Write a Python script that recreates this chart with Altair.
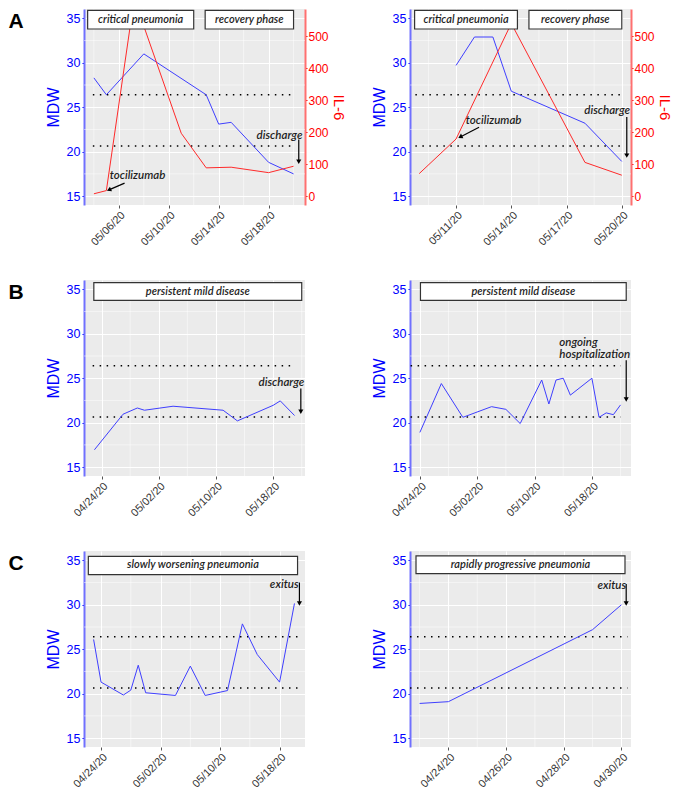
import altair as alt
import pandas as pd

# ---------------- data ----------------
LETTERS = ["A", "B", "C"]
REF_LEVELS = [20.65, 26.4]
MDW_TICKS = [15, 20, 25, 30, 35]
MDW_MINOR = [17.5, 22.5, 27.5, 32.5]
IL6_TICKS = [0, 100, 200, 300, 400, 500]

# A1
A1_mdw_dates = ["2020-05-04", "2020-05-05", "2020-05-08", "2020-05-13", "2020-05-14", "2020-05-15", "2020-05-18", "2020-05-20"]
A1_mdw = [28.3, 26.4, 31.0, 26.4, 23.1, 23.3, 18.8, 17.5]
A1_il6_dates = ["2020-05-04", "2020-05-05", "2020-05-07T02:00", "2020-05-07T14:00", "2020-05-11", "2020-05-13", "2020-05-15", "2020-05-18", "2020-05-20"]
A1_il6 = [8, 18, 578, 578, 197, 89, 91, 74, 94]
A1_ticks = ["2020-05-06", "2020-05-10", "2020-05-14", "2020-05-18"]
A1_minor = ["2020-05-04", "2020-05-08", "2020-05-12", "2020-05-16", "2020-05-20"]
A1_xdom = ["2020-05-03T05:00", "2020-05-20T22:00"]
A1_ref = ["2020-05-03T22:00", "2020-05-20T01:00"]
A1_boxes = [("2020-05-03T12:00", "2020-05-12T00:00", 33.8, 35.9, "critical pneumonia"),
            ("2020-05-12T22:00", "2020-05-20T00:00", 33.8, 35.9, "recovery phase")]
A1_notes = [("2020-05-07T12:00", 17.3, "tocilizumab", "center"),
            ("2020-05-18T21:00", 21.73, "discharge", "center")]
A1_arrows = [("2020-05-06T11:00", 16.46, "2020-05-05T05:00", 15.7, 246),
             ("2020-05-20T10:00", 21.37, "2020-05-20T10:00", 18.86, 180)]

# A2
A2_mdw_dates = ["2020-05-11", "2020-05-12", "2020-05-13", "2020-05-14", "2020-05-18", "2020-05-20"]
A2_mdw = [29.7, 32.9, 32.9, 26.8, 23.2, 18.9]
A2_il6_dates = ["2020-05-09", "2020-05-11", "2020-05-14", "2020-05-18", "2020-05-20"]
A2_il6 = [71, 179, 540, 106, 66]
A2_ticks = ["2020-05-11", "2020-05-14", "2020-05-17", "2020-05-20"]
A2_minor = ["2020-05-09T12:00", "2020-05-12T12:00", "2020-05-15T12:00", "2020-05-18T12:00"]
A2_xdom = ["2020-05-08T12:00", "2020-05-20T12:00"]
A2_ref = ["2020-05-08T19:00", "2020-05-20T02:00"]
A2_boxes = [("2020-05-08T18:00", "2020-05-14T08:00", 33.8, 35.9, "critical pneumonia"),
            ("2020-05-14T23:00", "2020-05-20T00:00", 33.8, 35.9, "recovery phase")]
A2_notes = [("2020-05-13T01:00", 23.47, "tocilizumab", "center"),
            ("2020-05-19T05:00", 24.53, "discharge", "center")]
A2_arrows = [("2020-05-12T06:00", 22.75, "2020-05-11T05:30", 21.66, 242),
             ("2020-05-20T06:30", 23.9, "2020-05-20T06:30", 19.55, 180)]

# B1
B1_dates = ["2020-04-23", "2020-04-27", "2020-04-29", "2020-04-30", "2020-05-04", "2020-05-11", "2020-05-13", "2020-05-18", "2020-05-19", "2020-05-21"]
B1_mdw = [16.95, 20.95, 21.65, 21.4, 21.85, 21.4, 20.2, 21.95, 22.45, 20.8]
B1_ticks = ["2020-04-24", "2020-05-02", "2020-05-10", "2020-05-18"]
B1_minor = ["2020-04-28", "2020-05-06", "2020-05-14", "2020-05-22"]
B1_xdom = ["2020-04-21T13:00", "2020-05-22T11:00"]
B1_ref = ["2020-04-22T18:00", "2020-05-21T02:00"]
B1_boxes = [("2020-04-22T22:00", "2020-05-22T00:00", 33.75, 35.75, "persistent mild disease")]
B1_notes = [("2020-05-19T04:00", 24.41, "discharge", "center")]
B1_arrows = [("2020-05-21T21:00", 23.84, "2020-05-21T21:00", 21.23, 180)]

# B2
B2_dates = ["2020-04-24", "2020-04-27", "2020-04-30", "2020-05-04", "2020-05-06", "2020-05-08", "2020-05-11", "2020-05-12",
            "2020-05-13", "2020-05-14", "2020-05-15", "2020-05-18", "2020-05-19", "2020-05-20", "2020-05-21", "2020-05-22"]
B2_mdw = [18.9, 24.4, 20.6, 21.8, 21.5, 19.9, 24.8, 22.1, 24.8, 25.0, 23.1, 25.0, 20.6, 21.1, 20.9, 22.0]
B2_ticks = ["2020-04-24", "2020-05-02", "2020-05-10", "2020-05-18"]
B2_minor = ["2020-04-28", "2020-05-06", "2020-05-14", "2020-05-22"]
B2_xdom = ["2020-04-22T15:00", "2020-05-23T11:00"]
B2_ref = ["2020-04-22T17:00", "2020-05-22T01:00"]
B2_boxes = [("2020-04-24T02:00", "2020-05-22T19:00", 33.75, 35.75, "persistent mild disease")]
B2_notes = [("2020-05-13T11:00", 29.0, "ongoing", "left"),
            ("2020-05-13T11:00", 27.64, "hospitalization", "left")]
B2_arrows = [("2020-05-22T19:00", 27.02, "2020-05-22T19:00", 22.6, 180)]

# C1
C1_dates = ["2020-04-23", "2020-04-24", "2020-04-27", "2020-04-28", "2020-04-29", "2020-04-30", "2020-05-04",
            "2020-05-06", "2020-05-08", "2020-05-11", "2020-05-13", "2020-05-15", "2020-05-18", "2020-05-20"]
C1_mdw = [26.1, 21.3, 19.85, 20.4, 23.2, 20.1, 19.8, 23.1, 19.8, 20.35, 27.85, 24.4, 21.3, 30.15]
C1_ticks = ["2020-04-24", "2020-05-02", "2020-05-10", "2020-05-18"]
C1_minor = ["2020-04-28", "2020-05-06", "2020-05-14"]
C1_xdom = ["2020-04-21T17:00", "2020-05-21T10:00"]
C1_ref = ["2020-04-22T22:00", "2020-05-20T22:00"]
C1_boxes = [("2020-04-22T07:00", "2020-05-20T10:00", 33.4, 35.45, "slowly worsening pneumonia")]
C1_notes = [("2020-05-18T15:00", 32.23, "exitus", "center")]
C1_arrows = [("2020-05-20T16:00", 32.5, "2020-05-20T16:00", 30.15, 180)]

# C2
C2_dates = ["2020-04-23", "2020-04-24", "2020-04-29", "2020-04-30"]
C2_mdw = [18.9, 19.1, 27.2, 30.0]
C2_ticks = ["2020-04-24", "2020-04-26", "2020-04-28", "2020-04-30"]
C2_minor = ["2020-04-23", "2020-04-25", "2020-04-27", "2020-04-29"]
C2_xdom = ["2020-04-22T16:00", "2020-04-30T08:00"]
C2_ref = ["2020-04-22T16:00", "2020-04-30T05:00"]
C2_boxes = [("2020-04-22T21:00", "2020-04-30T03:00", 33.5, 35.5, "rapidly progressive pneumonia")]
C2_notes = [("2020-04-29T16:00", 32.15, "exitus", "center")]
C2_arrows = [("2020-04-30T04:00", 32.34, "2020-04-30T04:00", 30.15, 180)]

# ---------------- styling ----------------
BLUE_TXT = "#0000ff"
BLUE_LINE = "#3f3fff"
RED_TXT = "#ff0000"
RED_LINE = "#ff2a2a"
ANN = "#1e1e1e"
FONT = "Liberation Sans"
NOTE_FONT = "Lato"
YDOM = [14.0, 36.05]
IL6DOM = [-27, 585]
W, H = 221, 196


def ts(values):
    return pd.to_datetime(pd.Series(values), format="ISO8601")


def DT(s):
    t = pd.Timestamp(s)
    return alt.DateTime(year=t.year, month=t.month, date=t.day, hours=t.hour, minutes=t.minute)


def panel(mdw_dates, mdw, ticks, minor, xdom, ref, boxes, notes, arrows,
          il6_dates=None, il6=None, letter=None):
    xscale = alt.Scale(domain=[DT(xdom[0]), DT(xdom[1])])
    xaxis = alt.Axis(values=[DT(v) for v in ticks], format="%m/%d/%y", labelAngle=-45,
                     title=None, domain=False, grid=True, labelColor="#333333",
                     labelFontSize=11, tickColor="#555555", tickSize=3, labelPadding=1)
    yscale = alt.Scale(domain=YDOM, nice=False, zero=False)
    yaxis = alt.Axis(values=MDW_TICKS, title="MDW", titleColor=BLUE_TXT, labelColor=BLUE_TXT,
                     labelFontSize=12.5, titleFontSize=16, titleFontWeight="normal",
                     domainColor="#7070ff", domainWidth=2, tickColor=BLUE_TXT, tickSize=2,
                     labelPadding=2, titlePadding=5, grid=True)

    def X(f):
        return alt.X(f, type="temporal", scale=xscale, axis=xaxis)

    def Y(f):
        return alt.Y(f, type="quantitative", scale=yscale, axis=yaxis)

    def Yn(f):
        return alt.Y(f, type="quantitative", scale=yscale, axis=None)

    minor_x = alt.Chart(pd.DataFrame({"d": ts(minor)})).mark_rule(
        color="white", strokeWidth=0.5).encode(x=X("d"))
    minor_y = alt.Chart(pd.DataFrame({"v": MDW_MINOR})).mark_rule(
        color="white", strokeWidth=0.5).encode(y=Y("v"))
    dotted = alt.Chart(pd.DataFrame({
        "x1": ts([ref[0]] * len(REF_LEVELS)), "x2": ts([ref[1]] * len(REF_LEVELS)), "v": REF_LEVELS
    })).mark_rule(color="black", strokeDash=[1.5, 5.5], strokeWidth=1.5).encode(
        x=X("x1"), x2="x2", y=Y("v"))
    blue = alt.Chart(pd.DataFrame({"d": ts(mdw_dates), "v": mdw})).mark_line(
        color=BLUE_LINE, strokeWidth=1, clip=True).encode(x=X("d"), y=Y("v"))
    base = alt.layer(minor_x, minor_y, dotted, blue)

    layers = [base]
    if il6 is not None:
        red = alt.Chart(pd.DataFrame({"d": ts(il6_dates), "v": il6})).mark_line(
            color=RED_LINE, strokeWidth=1, clip=True).encode(
            x=X("d"),
            y=alt.Y("v:Q", scale=alt.Scale(domain=IL6DOM, nice=False, zero=False),
                    axis=alt.Axis(orient="right", values=IL6_TICKS, title="IL-6",
                                  titleColor=RED_TXT, labelColor=RED_TXT, labelFontSize=12,
                                  titleFontSize=15, titleFontWeight="normal",
                                  domainColor="#ff7070", domainWidth=2, tickColor=RED_TXT,
                                  tickSize=2, labelPadding=1, titlePadding=2, grid=False)))
        layers.append(red)

    bx = pd.DataFrame(boxes, columns=["x1", "x2", "y1", "y2", "label"])
    bx["x1"] = ts(bx["x1"])
    bx["x2"] = ts(bx["x2"])
    bx["xc"] = bx["x1"] + (bx["x2"] - bx["x1"]) / 2
    bx["yc"] = (bx["y1"] + bx["y2"]) / 2
    rects = alt.Chart(bx).mark_rect(fill="white", stroke="#333333", strokeWidth=1.2).encode(
        x=X("x1"), x2="x2", y=Yn("y1"), y2="y2")
    box_txt = alt.Chart(bx).mark_text(font=NOTE_FONT, fontStyle="italic", fontWeight=600,
                                      fontSize=11, color=ANN, baseline="middle").encode(
        x=X("xc"), y=Yn("yc"), text="label:N")

    nt = pd.DataFrame(notes, columns=["d", "v", "label", "align"])
    nt["d"] = ts(nt["d"])
    note_layers = []
    for al in ["left", "center"]:
        sub = nt[nt["align"] == al]
        if len(sub):
            note_layers.append(alt.Chart(sub).mark_text(
                font=NOTE_FONT, fontStyle="italic", fontWeight=600, fontSize=11.5,
                color=ANN, align=al, baseline="middle").encode(
                x=X("d"), y=Yn("v"), text="label:N"))

    ar = pd.DataFrame(arrows, columns=["x1", "y1", "x2", "y2", "ang"])
    ar["x1"] = ts(ar["x1"])
    ar["x2"] = ts(ar["x2"])
    shafts = alt.Chart(ar).mark_rule(color="black", strokeWidth=1.2).encode(
        x=X("x1"), x2="x2", y=Yn("y1"), y2="y2")
    heads = alt.Chart(ar).mark_point(shape="triangle-up", filled=True, color="black",
                                     size=26, opacity=1).encode(
        x=X("x2"), y=Yn("y2"), angle=alt.Angle("ang:Q", scale=None))

    annot = alt.layer(rects, box_txt, *note_layers, shafts, heads)
    layers.append(annot)

    if letter is not None:
        lt = alt.Chart(pd.DataFrame({"label": [letter]})).mark_text(
            font=FONT, fontWeight="bold", fontSize=21, color="black",
            align="center", baseline="middle").encode(
            x=alt.value(-68), y=alt.value(13), text="label:N")
        layers.append(lt)

    return alt.layer(*layers).resolve_scale(y="independent").properties(width=W, height=H)


pA1 = panel(A1_mdw_dates, A1_mdw, A1_ticks, A1_minor, A1_xdom, A1_ref, A1_boxes, A1_notes,
            A1_arrows, A1_il6_dates, A1_il6, letter=LETTERS[0])
pA2 = panel(A2_mdw_dates, A2_mdw, A2_ticks, A2_minor, A2_xdom, A2_ref, A2_boxes, A2_notes,
            A2_arrows, A2_il6_dates, A2_il6)
pB1 = panel(B1_dates, B1_mdw, B1_ticks, B1_minor, B1_xdom, B1_ref, B1_boxes, B1_notes,
            B1_arrows, letter=LETTERS[1])
pB2 = panel(B2_dates, B2_mdw, B2_ticks, B2_minor, B2_xdom, B2_ref, B2_boxes, B2_notes, B2_arrows)
pC1 = panel(C1_dates, C1_mdw, C1_ticks, C1_minor, C1_xdom, C1_ref, C1_boxes, C1_notes,
            C1_arrows, letter=LETTERS[2])
pC2 = panel(C2_dates, C2_mdw, C2_ticks, C2_minor, C2_xdom, C2_ref, C2_boxes, C2_notes, C2_arrows)

chart = alt.concat(pA1, pA2, pB1, pB2, pC1, pC2, columns=2,
                   spacing={"row": 75, "column": 105}, bounds="flush").properties(
    padding=0
).configure_view(stroke=None, fill="#EBEBEB").configure_axis(
    labelFont=FONT, titleFont=FONT, gridColor="white", gridWidth=1
)

chart.save("out.html", embed_options={"renderer": "svg", "actions": False})
